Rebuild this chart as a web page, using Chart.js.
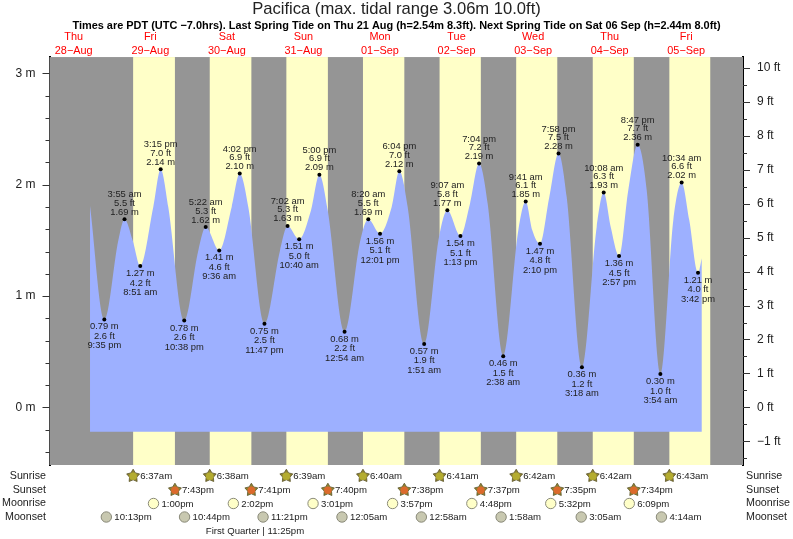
<!DOCTYPE html>
<html>
<head>
<meta charset="utf-8">
<title>Pacifica tide chart</title>
<script src="https://cdn.jsdelivr.net/npm/chart.js@4"></script>
<style>
  body { margin: 0; background: #fff; }
  canvas { display: block; }
</style>
</head>
<body>
<canvas id="tideChart" width="793" height="539"></canvas>
<script>
const titleText = "Pacifica (max. tidal range 3.06m 10.0ft)";
const subtitleText = "Times are PDT (UTC \u22127.0hrs). Last Spring Tide on Thu 21 Aug (h=2.54m 8.3ft). Next Spring Tide on Sat 06 Sep (h=2.44m 8.0ft)";

// points, day = days after 28 Aug
// entries with feet are the labelled turning points, null feet are shoulders of the curve
const tideDays = [0, 0,
  1, 1, 1, 1, 1, 1, 1, 1,
  2, 2, 2, 2, 2, 2, 2,
  3, 3, 3, 3, 3, 3,
  4, 4, 4, 4, 4, 4, 4,
  5, 5, 5, 5, 5, 5, 5,
  6, 6, 6, 6, 6, 6, 6, 6,
  7, 7, 7, 7, 7, 7, 7, 7,
  8, 8, 8, 8, 8, 8];
const tideClock = ["5:06pm", "9:35pm",
  "1:58am", "3:55am", "6:29am", "8:51am", "12:56pm", "3:15pm", "5:38pm", "10:38pm",
  "3:03am", "5:22am", "9:36am", "1:31pm", "4:02pm", "6:43pm", "11:47pm",
  "4:40am", "7:02am", "10:40am", "2:23pm", "5:00pm", "7:37pm",
  "12:54am", "5:50am", "8:20am", "12:01pm", "3:40pm", "6:04pm", "8:41pm",
  "1:51am", "6:30am", "9:07am", "1:13pm", "4:13pm", "7:04pm", "9:46pm",
  "2:38am", "7:22am", "9:41am", "11:45am", "2:10pm", "5:05pm", "7:58pm", "10:32pm",
  "3:18am", "7:56am", "10:08am", "12:20pm", "2:57pm", "5:50pm", "8:47pm", "11:37pm",
  "3:54am", "7:57am", "10:34am", "12:58pm", "3:42pm", "4:54pm"];
const tideMetres = [1.81, 0.79,
  1.50, 1.69, 1.50, 1.27, 1.80, 2.14, 1.80, 0.78,
  1.41, 1.62, 1.41, 1.80, 2.10, 1.80, 0.75,
  1.41, 1.63, 1.51, 1.77, 2.09, 1.77,
  0.68, 1.50, 1.69, 1.56, 1.80, 2.12, 1.80,
  0.57, 1.53, 1.77, 1.54, 1.83, 2.19, 1.83,
  0.46, 1.59, 1.85, 1.59, 1.47, 1.89, 2.28, 1.89,
  0.36, 1.62, 1.93, 1.62, 1.36, 1.95, 2.36, 1.95,
  0.30, 1.68, 2.02, 1.68, 1.21, 1.34];
const tideFeet = [null, 2.6,
  null, 5.5, null, 4.2, null, 7.0, null, 2.6,
  null, 5.3, 4.6, null, 6.9, null, 2.5,
  null, 5.3, 5.0, null, 6.9, null,
  2.2, null, 5.5, 5.1, null, 7.0, null,
  1.9, null, 5.8, 5.1, null, 7.2, null,
  1.5, null, 6.1, null, 4.8, null, 7.5, null,
  1.2, null, 6.3, null, 4.5, null, 7.7, null,
  1.0, null, 6.6, null, 4.0, null];
const tideFloor = -0.22;

const dayNames = ["Thu", "Fri", "Sat", "Sun", "Mon", "Tue", "Wed", "Thu", "Fri"];
const dayDates = ["28\u2212Aug", "29\u2212Aug", "30\u2212Aug", "31\u2212Aug", "01\u2212Sep", "02\u2212Sep", "03\u2212Sep", "04\u2212Sep", "05\u2212Sep"];

const sunriseDays = [1, 2, 3, 4, 5, 6, 7, 8];
const sunriseTimes = ["6:37am", "6:38am", "6:39am", "6:40am", "6:41am", "6:42am", "6:42am", "6:43am"];
const sunsetDays = [1, 2, 3, 4, 5, 6, 7];
const sunsetTimes = ["7:43pm", "7:41pm", "7:40pm", "7:38pm", "7:37pm", "7:35pm", "7:34pm"];
const lastSunset = "7:32pm"; // 05 Sep, only seen as the end of the last yellow band
const moonriseDays = [1, 2, 3, 4, 5, 6, 7];
const moonriseTimes = ["1:00pm", "2:02pm", "3:01pm", "3:57pm", "4:48pm", "5:32pm", "6:09pm"];
const moonsetDays = [0, 1, 2, 4, 5, 6, 7, 8];
const moonsetTimes = ["10:13pm", "10:44pm", "11:21pm", "12:05am", "12:58am", "1:58am", "3:05am", "4:14am"];
const moonPhaseText = "First Quarter | 11:25pm";

const metreTicks = [-0.4, -0.2, 0, 0.2, 0.4, 0.6, 0.8, 1, 1.2, 1.4, 1.6, 1.8, 2, 2.2, 2.4, 2.6, 2.8, 3];
const feetTicks = [-1.5, -1, -0.5, 0, 0.5, 1, 1.5, 2, 2.5, 3, 3.5, 4, 4.5, 5, 5.5, 6, 6.5, 7, 7.5, 8, 8.5, 9, 9.5, 10];

const FONT = "'Liberation Sans', Arial, sans-serif";
const TEXT = "#222";

function toHours(day, clock) {
  const [, h, m, ap] = clock.match(/(\d+):(\d+)(am|pm)/);
  return day * 24 + (Number(h) % 12) + (ap === "pm" ? 12 : 0) + Number(m) / 60;
}

const tidePoints = tideMetres.map((v, i) => ({ x: toHours(tideDays[i], tideClock[i]), y: v }));

function clockLabel(clock) {
  return clock.replace(/(am|pm)/, " $1");
}

// yellow daylight bands behind the tide
const daylightBands = {
  id: "daylightBands",
  beforeDatasetsDraw(chart) {
    const { ctx, chartArea, scales } = chart;
    ctx.save();
    ctx.fillStyle = "#959595";
    ctx.fillRect(chartArea.left, chartArea.top, chartArea.width, chartArea.height);
    ctx.fillStyle = "#ffffc8";
    sunriseTimes.forEach((t, i) => {
      const end = i < sunsetTimes.length ? toHours(sunsetDays[i], sunsetTimes[i]) : toHours(sunriseDays[i], lastSunset);
      const x0 = scales.x.getPixelForValue(toHours(sunriseDays[i], t));
      const x1 = scales.x.getPixelForValue(end);
      ctx.fillRect(x0, chartArea.top, x1 - x0, chartArea.height);
    });
    ctx.restore();
  }
};

// three line labels over high tides and under low tides
const tideLabels = {
  id: "tideLabels",
  afterDatasetsDraw(chart) {
    const { ctx } = chart;
    const points = chart.getDatasetMeta(0).data;
    ctx.save();
    ctx.font = "9.4px " + FONT;
    ctx.fillStyle = TEXT;
    ctx.textAlign = "center";
    ctx.textBaseline = "middle";
    points.forEach((pt, i) => {
      if (tideFeet[i] === null) return;
      const isHigh = tideMetres[i] > tideMetres[i - 1];
      const m = tideMetres[i].toFixed(2) + " m";
      const ft = tideFeet[i].toFixed(1) + " ft";
      const when = clockLabel(tideClock[i]);
      if (isHigh) {
        ctx.fillText(m, pt.x, pt.y - 7);
        ctx.fillText(ft, pt.x, pt.y - 16);
        ctx.fillText(when, pt.x, pt.y - 24.5);
      } else {
        ctx.fillText(m, pt.x, pt.y + 7.5);
        ctx.fillText(ft, pt.x, pt.y + 17);
        ctx.fillText(when, pt.x, pt.y + 26.5);
      }
    });
    ctx.restore();
  }
};

// long ticks on whole units, short ones between. chart.js has one tick length per axis
const axisTicks = {
  id: "axisTicks",
  afterDraw(chart) {
    const { ctx, scales } = chart;
    ctx.save();
    ctx.strokeStyle = "#333";
    ctx.lineWidth = 1;
    [scales.metres, scales.feet].forEach(scale => {
      const edge = scale === scales.metres ? chart.chartArea.left : chart.chartArea.right;
      const dir = scale === scales.metres ? -1 : 1;
      scale.ticks.forEach(tick => {
        const y = Math.round(scale.getPixelForValue(tick.value)) + 0.5;
        const len = Number.isInteger(tick.value) ? 7 : 4;
        ctx.beginPath();
        ctx.moveTo(edge, y);
        ctx.lineTo(edge + dir * len, y);
        ctx.stroke();
      });
    });
    ctx.restore();
  }
};

function drawStar(ctx, x, y, fill) {
  ctx.beginPath();
  for (let i = 0; i < 10; i++) {
    const r = i % 2 === 0 ? 6.8 : 3.8;
    const a = -Math.PI / 2 + i * Math.PI / 5;
    ctx.lineTo(x + r * Math.cos(a), y + r * Math.sin(a));
  }
  ctx.closePath();
  ctx.fillStyle = "#8f8430";
  ctx.fill();
  ctx.lineWidth = 0.8;
  ctx.strokeStyle = "#5c5428";
  ctx.stroke();
  ctx.beginPath();
  ctx.arc(x, y + 0.3, 3.8, 0, Math.PI * 2);
  ctx.fillStyle = fill;
  ctx.fill();
}

function drawMoon(ctx, x, y, fill) {
  ctx.beginPath();
  ctx.arc(x, y, 5.2, 0, Math.PI * 2);
  ctx.fillStyle = fill;
  ctx.fill();
  ctx.lineWidth = 1;
  ctx.strokeStyle = "#8a8a7a";
  ctx.stroke();
}

// sun and moon rows under the plot
const almanacRows = {
  id: "almanacRows",
  afterDraw(chart) {
    const { ctx, scales, chartArea } = chart;
    const rows = [
      { name: "Sunrise", y: 476, days: sunriseDays, times: sunriseTimes, gap: 7, icon: (x, y) => drawStar(ctx, x, y, "#b4ac30") },
      { name: "Sunset", y: 490, days: sunsetDays, times: sunsetTimes, gap: 7, icon: (x, y) => drawStar(ctx, x, y, "#dc6a2c") },
      { name: "Moonrise", y: 503.5, days: moonriseDays, times: moonriseTimes, gap: 8, icon: (x, y) => drawMoon(ctx, x, y, "#ffffc8") },
      { name: "Moonset", y: 517, days: moonsetDays, times: moonsetTimes, gap: 8, icon: (x, y) => drawMoon(ctx, x, y, "#c8c8b0") }
    ];
    ctx.save();
    ctx.textBaseline = "middle";
    rows.forEach(row => {
      ctx.font = "10.7px " + FONT;
      ctx.fillStyle = TEXT;
      ctx.textAlign = "right";
      ctx.fillText(row.name, chartArea.left - 3.5, row.y);
      ctx.textAlign = "left";
      ctx.fillText(row.name, chartArea.right + 3, row.y);
      row.times.forEach((t, i) => {
        const x = scales.x.getPixelForValue(toHours(row.days[i], t));
        row.icon(x, row.y);
        ctx.font = "9.6px " + FONT;
        ctx.fillStyle = TEXT;
        ctx.fillText(t, x + row.gap, row.y + 0.5);
      });
    });
    ctx.textAlign = "center";
    ctx.fillText(moonPhaseText, 255, 531);
    ctx.restore();
  }
};

const ctx = document.getElementById("tideChart");
new Chart(ctx, {
  type: "line",
  data: {
    datasets: [{
      data: tidePoints,
      xAxisID: "x",
      yAxisID: "metres",
      cubicInterpolationMode: "monotone",
      borderWidth: 0,
      backgroundColor: "#9db0ff",
      fill: { value: tideFloor },
      pointRadius: c => (tideFeet[c.dataIndex] === null ? 0 : 2),
      pointBackgroundColor: "#000",
      pointBorderWidth: 0
    }]
  },
  plugins: [daylightBands, tideLabels, axisTicks, almanacRows],
  options: {
    responsive: false,
    animation: false,
    layout: { padding: { top: 0, bottom: 74, left: 0, right: 0 } },
    plugins: {
      legend: { display: false },
      tooltip: { enabled: false },
      title: {
        display: true,
        text: titleText,
        color: TEXT,
        font: { family: FONT, size: 16.6, weight: "normal", lineHeight: 1.14 },
        padding: { top: 0, bottom: 0 }
      },
      subtitle: {
        display: true,
        text: subtitleText,
        color: "#000",
        font: { family: FONT, size: 10.94, weight: "bold", lineHeight: 1.2 },
        padding: { top: 0, bottom: 0 }
      }
    },
    scales: {
      x: {
        type: "linear",
        position: "top",
        min: 4.4,
        max: 221.8,
        grid: { display: false, drawTicks: false },
        border: { display: false },
        afterFit(scale) { scale.height = 25; },
        afterBuildTicks(scale) { scale.ticks = dayNames.map((_, i) => ({ value: i * 24 + 12 })); },
        ticks: {
          autoSkip: false,
          maxRotation: 0,
          padding: 0,
          color: "#f00",
          font: { family: FONT, size: 10.9 },
          callback(value) {
            const i = (value - 12) / 24;
            return [dayNames[i], dayDates[i]];
          }
        }
      },
      metres: {
        type: "linear",
        position: "left",
        min: -0.518,
        max: 3.147,
        grid: { display: false, drawTicks: false },
        border: { color: "#000", width: 2 },
        afterFit(scale) { scale.width = 49.5; },
        afterBuildTicks(scale) { scale.ticks = metreTicks.map(v => ({ value: v })); },
        ticks: {
          autoSkip: false,
          padding: 14,
          color: TEXT,
          font: { family: FONT, size: 12 },
          callback: v => (Number.isInteger(v) ? v + " m" : "")
        }
      },
      feet: {
        type: "linear",
        position: "right",
        min: -0.518 * 3.28084,
        max: 3.147 * 3.28084,
        grid: { display: false, drawTicks: false },
        border: { color: "#000", width: 2 },
        afterFit(scale) { scale.width = 50; },
        afterBuildTicks(scale) { scale.ticks = feetTicks.map(v => ({ value: v })); },
        ticks: {
          autoSkip: false,
          padding: 14,
          color: TEXT,
          font: { family: FONT, size: 12 },
          callback: v => (Number.isInteger(v) ? String(v).replace("-", "\u2212") + " ft" : "")
        }
      }
    }
  }
});
</script>
</body>
</html>
